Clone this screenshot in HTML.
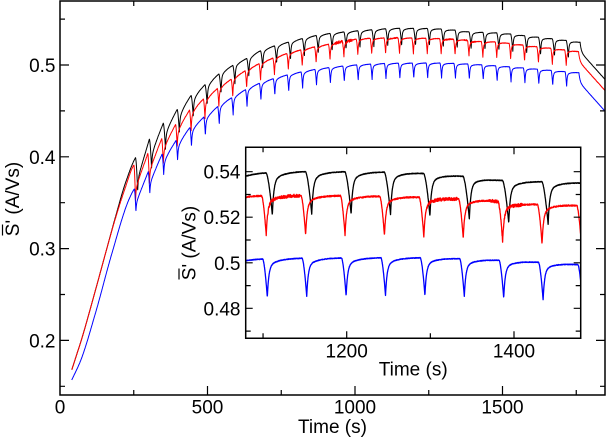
<!DOCTYPE html>
<html><head><meta charset="utf-8"><style>
html,body{margin:0;padding:0;background:#fff;}
svg{display:block;}
text{font-family:"Liberation Sans",Arial,sans-serif;font-size:19px;fill:#000;}
</style></head><body>
<svg id="s" width="607" height="440" viewBox="0 0 607 440" xmlns="http://www.w3.org/2000/svg">
<defs>
<clipPath id="cm"><rect x="60" y="1" width="545" height="394"/></clipPath>
<clipPath id="ci"><rect x="245.7" y="147.3" width="335" height="191"/></clipPath>
</defs>
<rect width="607" height="440" fill="#fff"/>
<g clip-path="url(#cm)" fill="none" stroke-width="1" stroke-linejoin="round">
<path id="mb" stroke="#000"/>
<path id="mr" stroke="#f00"/>
<path id="mu" stroke="#00f"/>
</g>
<path d="M60 1H605V395H60Z" fill="none" stroke="#000" stroke-width="1.5"/>
<path fill="none" stroke="#000" stroke-width="1.2" d="
M207.5 395V386M355 395V386M502.5 395V386
M133.75 395V390M281.25 395V390M428.75 395V390M576.25 395V390
M207.5 1V10M355 1V10M502.5 1V10
M133.75 1V6M281.25 1V6M428.75 1V6M576.25 1V6
M60 340.4H69M60 248.6H69M60 156.8H69M60 65H69
M60 386.3H65M60 294.5H65M60 202.7H65M60 110.9H65M60 19.1H65
M605 340.4H596M605 248.6H596M605 156.8H596M605 65H596
M605 386.3H600M605 294.5H600M605 202.7H600M605 110.9H600M605 19.1H600"/>
<text x="55.5" y="347.4" text-anchor="end">0.2</text>
<text x="55.5" y="255.6" text-anchor="end">0.3</text>
<text x="55.5" y="163.8" text-anchor="end">0.4</text>
<text x="55.5" y="72" text-anchor="end">0.5</text>
<text x="60" y="413.5" text-anchor="middle">0</text>
<text x="207.5" y="413.5" text-anchor="middle">500</text>
<text x="355" y="413.5" text-anchor="middle">1000</text>
<text x="502.5" y="413.5" text-anchor="middle">1500</text>
<text x="332.5" y="433" text-anchor="middle">Time (s)</text>
<g transform="translate(19,199) rotate(-90)">
<text x="-37.2" y="0">S' (A/Vs)</text>
<path d="M-36.5 -16.5H-25.5" stroke="#000" stroke-width="1.2"/>
</g>

<rect x="245.7" y="147.3" width="335" height="191" fill="#fff"/>
<g clip-path="url(#ci)" fill="none" stroke-width="1.3" stroke-linejoin="round">
<path id="ib" stroke="#000"/>
<path id="ir" stroke="#f00"/>
<path id="iu" stroke="#00f"/>
</g>
<path d="M245.7 147.3H580.7V338.3H245.7Z" fill="none" stroke="#000" stroke-width="1.5"/>
<path fill="none" stroke="#000" stroke-width="1.2" d="
M346.7 338.3V331.3M514 338.3V331.3M263.05 338.3V333.3M430.35 338.3V333.3
M346.7 147.3V154.3M514 147.3V154.3M263.05 147.3V152.3M430.35 147.3V152.3
M245.7 171.7H252.7M245.7 217.2H252.7M245.7 262.8H252.7M245.7 308.3H252.7
M245.7 194.5H250.7M245.7 240H250.7M245.7 285.6H250.7M245.7 331.1H250.7
M580.7 171.7H573.7M580.7 217.2H573.7M580.7 262.8H573.7M580.7 308.3H573.7
M580.7 194.5H575.7M580.7 240H575.7M580.7 285.6H575.7M580.7 331.1H575.7"/>
<text x="240.5" y="178.7" text-anchor="end">0.54</text>
<text x="240.5" y="224.2" text-anchor="end">0.52</text>
<text x="240.5" y="269.8" text-anchor="end">0.5</text>
<text x="240.5" y="315.3" text-anchor="end">0.48</text>
<text x="346.7" y="357.7" text-anchor="middle">1200</text>
<text x="514" y="357.7" text-anchor="middle">1400</text>
<text x="413.2" y="375.7" text-anchor="middle">Time (s)</text>
<g transform="translate(195.5,243) rotate(-90)">
<text x="-37.2" y="0">S' (A/Vs)</text>
<path d="M-36.5 -16.5H-25.5" stroke="#000" stroke-width="1.2"/>
</g>
</svg>
<script>
(function(){
function mono(pts){
  var n=pts.length,xs=[],ys=[],d=[],m=[],i;
  for(i=0;i<n;i++){xs.push(pts[i][0]);ys.push(pts[i][1]);}
  for(i=0;i<n-1;i++)d.push((ys[i+1]-ys[i])/(xs[i+1]-xs[i]));
  m[0]=d[0];m[n-1]=d[n-2];
  for(i=1;i<n-1;i++){
    if(d[i-1]*d[i]<=0)m[i]=0;
    else{var h0=xs[i]-xs[i-1],h1=xs[i+1]-xs[i];var w1=2*h1+h0,w2=h1+2*h0;m[i]=(w1+w2)/(w1/d[i-1]+w2/d[i]);}
  }
  return function(x){
    if(x<=xs[0])return ys[0];
    if(x>=xs[n-1])return ys[n-1];
    var j=0;while(x>xs[j+1])j++;
    var h=xs[j+1]-xs[j],t=(x-xs[j])/h,t2=t*t,t3=t2*t;
    return (2*t3-3*t2+1)*ys[j]+(t3-2*t2+t)*h*m[j]+(-2*t3+3*t2)*ys[j+1]+(t3-t2)*h*m[j+1];
  };
}
var P=47.1;
function mk(pts,k0,Td,D0,D1,Dtau){
  var E=mono(pts);var tend=k0+32*P;
  return function(t){
    var v;
    if(t<k0)v=E(t);
    else if(t>=tend){var s0=t-tend;v=E(tend)-0.010*(1-Math.exp(-s0/4))-0.00036*s0;}
    else{
      var k=Math.floor((t-k0)/P),tk=k0+k*P,s=t-tk;
      var D=D0+D1*Math.exp(-(tk-k0)/Dtau);
      var w=Math.min(1,Math.max(0,(tk-250)/300));
      var a=0.3+0.5*w,g;
      if(s<Td)g=Math.pow(s/Td,1.6);
      else{
        var u=s-Td,L=P-Td;
        var f=Math.exp(-u/1.8);
        var lin=1-u/L;
        var e2=Math.exp(-L/12);
        var ex=(Math.exp(-u/12)-e2)/(1-e2);
        g=a*f+(1-a)*((1-w)*lin+w*ex);
      }
      v=E(t)-D*g;
    }
    return v;
  };
}
var st=987654321;
function rnd(){st^=st<<13;st^=st>>>17;st^=st<<5;return ((st>>>0)%1000003)/1000003;}

var fb=mk([[40,0.168],[56,0.184],[72,0.2],[120,0.2545],[154,0.2945],[188,0.3344],[221,0.3707],[255.8,0.399],[300,0.418],[350,0.4365],[401,0.4528],[446,0.4673],[491,0.4785],[542,0.491],[588,0.5],[638,0.508],[680,0.5155],[780,0.5254],[892,0.5334],[1040,0.538],[1150,0.540],[1250,0.5398],[1338,0.538],[1385,0.5362],[1480,0.535],[1600,0.531],[1763,0.5247],[1850,0.52]],255.8,7.5,0.0185,0.022,160);
var fr=mk([[40,0.168],[56,0.184],[72,0.2],[120,0.2545],[154,0.2945],[188,0.333],[221,0.366],[250.5,0.391],[305,0.4056],[356,0.4237],[407,0.44],[452,0.4546],[497,0.4655],[542,0.4764],[593,0.487],[638,0.4955],[690,0.5035],[780,0.5135],[892,0.5215],[1040,0.529],[1150,0.5295],[1266,0.529],[1314,0.5283],[1362,0.5276],[1410,0.5258],[1458,0.5254],[1600,0.5205],[1757.7,0.5145],[1850,0.51]],250.5,5.5,0.0172,0.024,160);
var fu=mk([[40,0.157],[70,0.178],[120,0.2295],[176,0.2949],[233,0.353],[251.8,0.365],[305,0.386],[356,0.4065],[401,0.42],[446,0.4335],[497,0.4455],[542,0.4564],[588,0.4655],[638,0.4746],[680,0.4805],[780,0.4899],[892,0.4964],[1040,0.5008],[1150,0.502],[1280,0.5022],[1375,0.5012],[1471,0.4993],[1600,0.496],[1759,0.4916],[1850,0.49]],251.8,5.5,0.0162,0.011,300);

function nb(t){return 0.00015;}
function nu(t){return 0.00015;}
function nr(t){
  var a=0.0003;
  if(t>930&&t<990)a+=0.0012;
  if((t>1104&&t<1144)||(t>1296&&t<1332)||(t>1370&&t<1410))a+=0.0004;
  return a;
}
function build(f,n,t0,t1,dt,X,Y){
  var d=[],t,c=0;
  for(t=t0;t<=t1+1e-9;t+=dt){
    var v=f(t)+n(t)*(rnd()*2-1);
    d.push((c?'L':'M')+X(t).toFixed(2)+' '+Y(v).toFixed(2));c++;
  }
  return d.join('');
}
function MX(t){return 60+0.295*t;}
function MY(v){return 65-(v-0.5)*918;}
function IX(t){return 346.7+(t-1200)*0.8365;}
function IY(v){return 171.7+(0.54-v)*2277;}
document.getElementById('mb').setAttribute('d',build(fb,nb,40,1848,0.5,MX,MY));
document.getElementById('mr').setAttribute('d',build(fr,nr,40,1848,0.5,MX,MY));
document.getElementById('mu').setAttribute('d',build(fu,nu,40,1848,0.5,MX,MY));
document.getElementById('ib').setAttribute('d',build(fb,nb,1076,1484,0.2,IX,IY));
document.getElementById('ir').setAttribute('d',build(fr,nr,1076,1484,0.2,IX,IY));
document.getElementById('iu').setAttribute('d',build(fu,nu,1076,1484,0.2,IX,IY));
})();
</script>
</body></html>
